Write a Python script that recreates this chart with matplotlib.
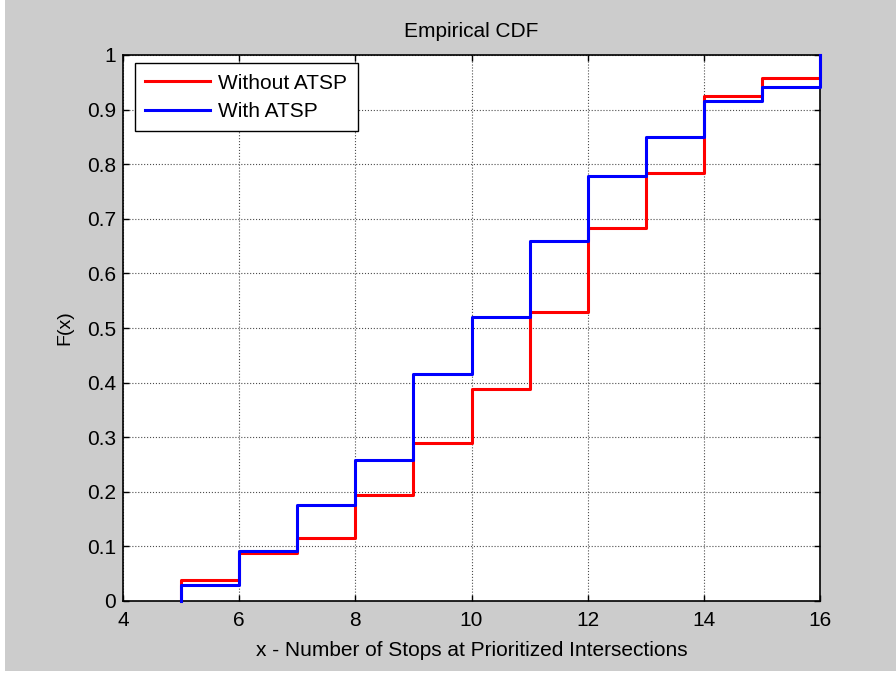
import matplotlib

matplotlib.use("Agg")
import matplotlib.pyplot as plt
from matplotlib.patches import Rectangle

# Number of stops at prioritized intersections (support of the ECDF)
stops = [5, 6, 7, 8, 9, 10, 11, 12, 13, 14, 15, 16]
# F(x), right-continuous steps
cdf_without = [0.039, 0.087, 0.115, 0.194, 0.289, 0.389, 0.529, 0.683,
               0.783, 0.925, 0.957, 1.0]
cdf_with = [0.030, 0.091, 0.176, 0.259, 0.415, 0.521, 0.660, 0.778,
            0.850, 0.916, 0.942, 1.0]

XMIN, XMAX = 4, 16
xticks = [4, 6, 8, 10, 12, 14, 16]
yticks = [0, 0.1, 0.2, 0.3, 0.4, 0.5, 0.6, 0.7, 0.8, 0.9, 1]
ytick_labels = ["0", "0.1", "0.2", "0.3", "0.4", "0.5", "0.6", "0.7",
                "0.8", "0.9", "1"]

plt.rcParams.update({
    "font.family": ["Liberation Sans", "DejaVu Sans"],
    "font.size": 15,
})

BG = "#cccccc"

fig = plt.figure(figsize=(8.96, 6.73), dpi=100, facecolor="white")
fig.patches.append(Rectangle((5 / 896, 0.003), 1.0, 1.0, transform=fig.transFigure,
                             facecolor=BG, edgecolor="none", zorder=-10))
ax = fig.add_axes([123 / 896, 1 - 601 / 673, (820 - 123) / 896, (601 - 55) / 673])


def ecdf_xy(xs, fs):
    # vertical rise from 0 at the first value, then post steps up to 1
    pts_x = [xs[0]] + list(xs)
    pts_y = [0.0] + list(fs)
    return pts_x, pts_y


x_r, y_r = ecdf_xy(stops, cdf_without)
x_b, y_b = ecdf_xy(stops, cdf_with)
ax.step(x_r, y_r, where="post", color="#ff0000", lw=2.2, label="Without ATSP",
        zorder=3, clip_on=False)
ax.step(x_b, y_b, where="post", color="#0000ff", lw=2.2, label="With ATSP",
        zorder=4, clip_on=False)

ax.set_xlim(XMIN, XMAX)
ax.set_ylim(0, 1)
ax.set_xticks(xticks)
ax.set_yticks(yticks)
ax.set_yticklabels(ytick_labels)
ax.tick_params(axis="both", direction="in", top=True, right=True, length=4,
               width=1, labelsize=15)
ax.tick_params(axis="x", pad=7)
ax.tick_params(axis="y", pad=5)
for side in ax.spines.values():
    side.set_linewidth(1.2)
ax.grid(True, linestyle=":", color="0.3", linewidth=0.8)
ax.set_axisbelow(True)

ax.set_title("Empirical CDF", fontsize=15, pad=13)
ax.set_xlabel("x - Number of Stops at Prioritized Intersections", fontsize=15,
              labelpad=8)
ax.set_ylabel("F(x)", fontsize=14, labelpad=10)

leg = ax.legend(loc="upper left", bbox_to_anchor=(0.0172, 0.985),
                borderaxespad=0, fontsize=15, fancybox=False, framealpha=1,
                edgecolor="black", handlelength=3.1, borderpad=0.5,
                labelspacing=0.45, handletextpad=0.4)
leg.get_frame().set_linewidth(1.0)
leg.set_zorder(10)

fig.savefig("out.png", dpi=100, facecolor=fig.get_facecolor())
